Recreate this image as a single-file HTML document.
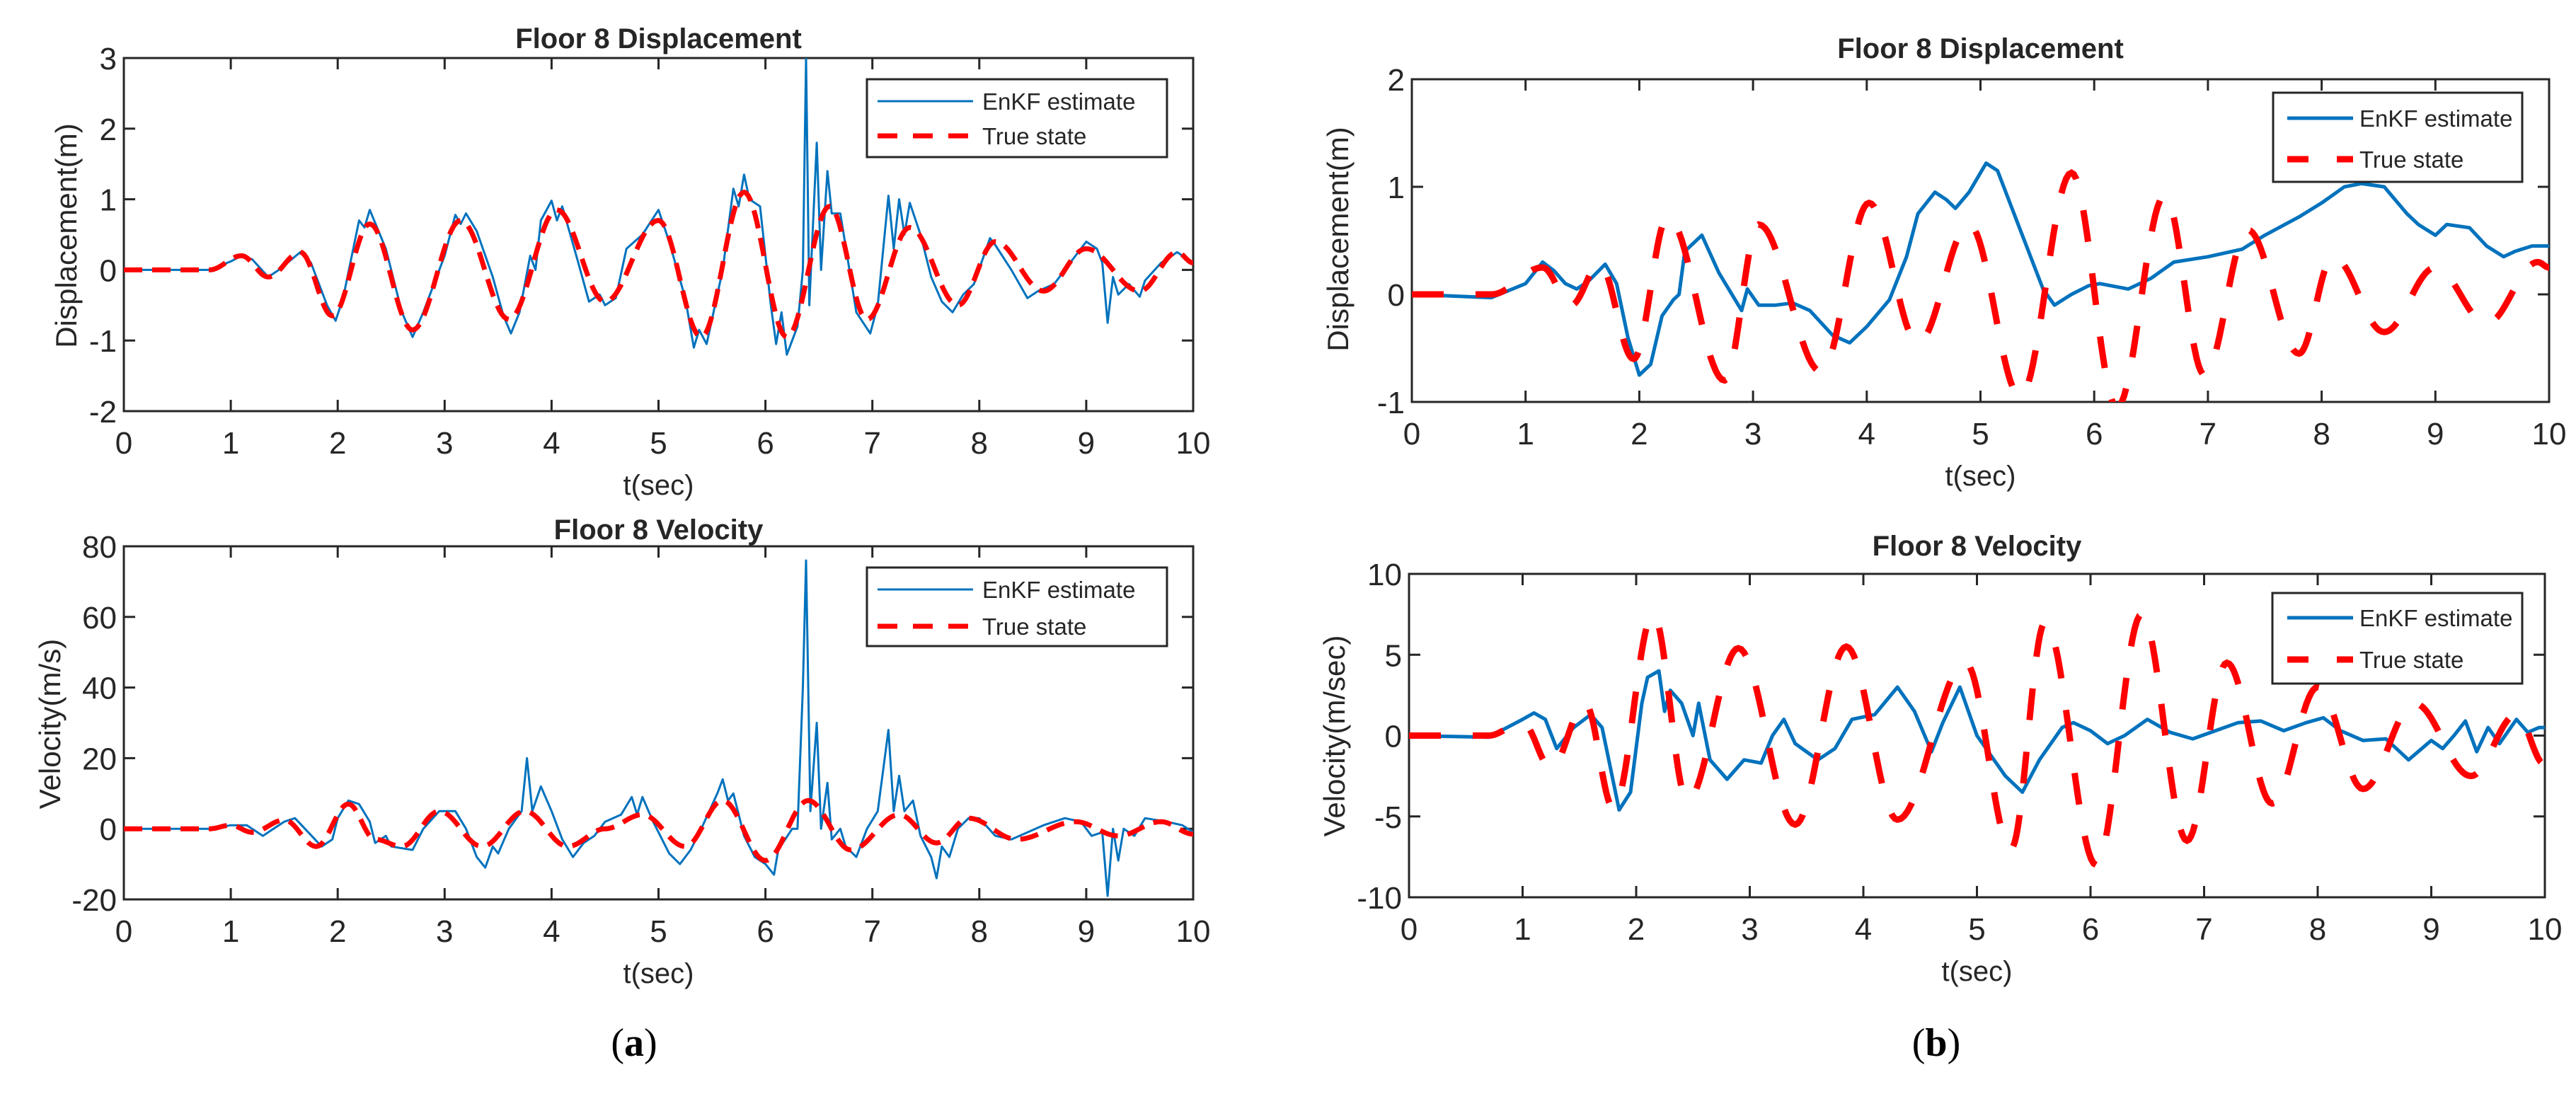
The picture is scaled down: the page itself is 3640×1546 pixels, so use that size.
<!DOCTYPE html>
<html><head><meta charset="utf-8">
<style>
html,body{margin:0;padding:0;background:#fff;}
svg{display:block;}
text{font-family:"Liberation Sans",sans-serif;fill:#262626;}
</style></head>
<body>
<svg id="fig" width="3640" height="1546" viewBox="0 0 3640 1546" xmlns="http://www.w3.org/2000/svg">
<text x="896" y="1492" style="font-family:'Liberation Serif',serif;font-size:56px;fill:#000" text-anchor="middle">(<tspan font-weight="bold">a</tspan>)</text>
<text x="2736" y="1492" style="font-family:'Liberation Serif',serif;font-size:56px;fill:#000" text-anchor="middle">(<tspan font-weight="bold">b</tspan>)</text>
</svg>
<script>
// ---- Panel (a) displacement ----
const aDispTrueT = [0,0.8,1.1,1.35,1.65,1.95,2.3,2.7,3.15,3.6,4.05,4.5,5.0,5.4,5.8,6.2,6.6,6.95,7.35,7.8,8.15,8.6,9.0,9.5,9.85,10];
const aDispTrueV = [0,0,0.2,-0.1,0.25,-0.65,0.65,-0.85,0.7,-0.7,0.85,-0.45,0.7,-0.95,1.1,-0.95,0.9,-0.7,0.6,-0.5,0.4,-0.3,0.3,-0.3,0.25,0.1];
const aDispEstT = [0,0.8,1.0,1.1,1.2,1.35,1.45,1.65,1.75,1.9,1.98,2.05,2.2,2.25,2.3,2.45,2.6,2.7,2.8,3.0,3.1,3.15,3.2,3.3,3.45,3.55,3.62,3.7,3.8,3.85,3.9,4.0,4.05,4.1,4.25,4.35,4.45,4.5,4.6,4.7,4.85,5.0,5.1,5.25,5.33,5.38,5.45,5.6,5.7,5.75,5.8,5.85,5.95,6.05,6.1,6.15,6.2,6.3,6.35,6.38,6.41,6.48,6.52,6.58,6.62,6.7,6.85,6.98,7.05,7.15,7.2,7.25,7.3,7.35,7.45,7.55,7.65,7.75,7.85,7.95,8.1,8.15,8.3,8.45,8.55,8.7,8.85,9.0,9.1,9.15,9.2,9.25,9.3,9.4,9.5,9.55,9.7,9.85,10];
const aDispEstV = [0,0,0.12,0.2,0.15,-0.1,0,0.25,0.1,-0.5,-0.72,-0.4,0.7,0.6,0.85,0.3,-0.6,-0.95,-0.6,0.2,0.78,0.65,0.8,0.55,-0.1,-0.65,-0.9,-0.6,0.2,0,0.7,0.98,0.7,0.9,0.1,-0.45,-0.35,-0.5,-0.4,0.3,0.5,0.85,0.4,-0.4,-1.1,-0.85,-1.05,0,1.15,0.9,1.35,1.0,0.9,-0.5,-1.05,-0.6,-1.2,-0.8,0,3.0,-0.5,1.8,0,1.4,0.8,0.8,-0.6,-0.9,-0.5,1.05,0.3,1.0,0.5,0.95,0.5,-0.1,-0.45,-0.6,-0.35,-0.2,0.45,0.35,0,-0.4,-0.3,-0.2,0.1,0.4,0.3,0.1,-0.75,-0.1,-0.35,-0.2,-0.38,-0.15,0.1,0.25,0.1];
// ---- Panel (a) velocity ----
const aVelTrueT = [0,0.8,1.0,1.2,1.5,1.8,2.1,2.35,2.6,2.95,3.35,3.75,4.15,4.5,4.85,5.25,5.6,6.0,6.4,6.8,7.25,7.6,7.9,8.35,8.9,9.3,9.7,10];
const aVelTrueV = [0,0,1,-1,2.5,-5,7,-3,-5,5,-5,5,-5,0,4,-5,8,-9,8,-6,4,-4,3,-3,2,-2,2,-1.5];
const aVelEstT = [0,0.8,1.0,1.15,1.3,1.5,1.6,1.85,1.95,2.0,2.1,2.2,2.3,2.35,2.45,2.5,2.7,2.8,2.95,3.1,3.2,3.3,3.38,3.45,3.5,3.6,3.72,3.77,3.82,3.9,4.0,4.1,4.2,4.3,4.4,4.5,4.65,4.75,4.8,4.85,4.95,5.1,5.2,5.3,5.4,5.55,5.6,5.65,5.7,5.8,5.9,6.0,6.08,6.12,6.25,6.3,6.35,6.38,6.42,6.48,6.52,6.58,6.62,6.7,6.75,6.85,6.95,7.05,7.15,7.2,7.25,7.3,7.38,7.45,7.55,7.6,7.65,7.72,7.8,7.9,8.0,8.15,8.3,8.45,8.6,8.8,8.95,9.05,9.15,9.2,9.25,9.3,9.35,9.45,9.55,9.75,9.9,10];
const aVelEstV = [0,0,1,1,-2,2,3,-5,-3,3,8,7,2,-4,-2,-5,-6,0,5,5,0,-8,-11,-5,-7,0,5,20,5,12,5,-3,-8,-4,-2,2,4,9,4,9,2,-7,-10,-6,0,10,14,8,10,-2,-8,-10,-13,-6,0,0,40,76,5,30,0,13,-3,0,-5,-8,0,5,28,5,15,5,8,-2,-8,-14,-5,-8,0,3,3,-2,-3,-1,1,3,2,-2,-1,-19,0,-9,0,-2,3,2,1,-1];
// ---- Panel (b) displacement ----
const bDispTrueT = [0,0.7,1.15,1.4,1.65,1.95,2.25,2.75,3.05,3.6,4.02,4.45,4.9,5.35,5.8,6.2,6.62,6.97,7.35,7.8,8.1,8.55,9.0,9.45,9.9,10];
const bDispTrueV = [0,0,0.25,-0.1,0.28,-0.6,0.72,-0.8,0.65,-0.72,0.85,-0.45,0.65,-0.95,1.13,-1.05,0.92,-0.75,0.6,-0.55,0.35,-0.35,0.25,-0.27,0.3,0.25];
const bDispEstT = [0,0.7,1.0,1.15,1.25,1.35,1.45,1.55,1.7,1.8,1.9,2.0,2.1,2.2,2.3,2.35,2.4,2.55,2.7,2.9,2.95,3.05,3.2,3.35,3.5,3.7,3.85,4.0,4.2,4.35,4.45,4.6,4.7,4.78,4.9,5.05,5.15,5.35,5.55,5.65,5.8,5.95,6.05,6.3,6.5,6.7,7.0,7.3,7.5,7.8,8.0,8.2,8.35,8.55,8.75,8.85,9.0,9.1,9.3,9.45,9.6,9.7,9.85,10];
const bDispEstV = [0,-0.03,0.1,0.3,0.22,0.1,0.05,0.12,0.28,0.1,-0.4,-0.75,-0.65,-0.2,-0.05,0,0.4,0.55,0.2,-0.15,0.05,-0.1,-0.1,-0.08,-0.15,-0.38,-0.45,-0.3,-0.05,0.35,0.75,0.95,0.88,0.8,0.95,1.22,1.15,0.6,0.05,-0.1,0,0.08,0.1,0.05,0.15,0.3,0.35,0.42,0.55,0.72,0.85,1.0,1.03,1.0,0.75,0.65,0.55,0.65,0.62,0.45,0.35,0.4,0.45,0.45];
// ---- Panel (b) velocity ----
const bVelTrueT = [0,0.7,1.0,1.25,1.55,1.8,2.15,2.45,2.9,3.4,3.85,4.3,4.9,5.3,5.6,6.05,6.45,6.85,7.2,7.6,8.0,8.4,8.85,9.35,9.75,10];
const bVelTrueV = [0,0,0.8,-2,2,-4.5,7.5,-4,5.4,-5.5,5.5,-5.2,4.5,-7,7,-8,7.5,-6.5,4.5,-4.2,3,-3.3,2,-2.5,1.3,-1.8];
const bVelEstT = [0,0.7,1.0,1.1,1.2,1.3,1.45,1.6,1.7,1.85,1.95,2.05,2.1,2.2,2.25,2.3,2.4,2.5,2.55,2.65,2.8,2.95,3.1,3.2,3.3,3.4,3.6,3.75,3.9,4.1,4.3,4.45,4.6,4.7,4.85,5.0,5.25,5.4,5.55,5.75,5.85,6.0,6.15,6.3,6.5,6.7,6.9,7.1,7.3,7.5,7.7,7.9,8.05,8.2,8.4,8.6,8.8,9.0,9.1,9.2,9.3,9.4,9.5,9.6,9.75,9.85,9.95,10];
const bVelEstV = [0,-0.1,1.0,1.4,1.0,-0.8,0.5,1.3,0.5,-4.6,-3.5,2.0,3.6,4.0,1.5,2.8,2.0,0,2.0,-1.5,-2.7,-1.5,-1.7,0,1.0,-0.5,-1.5,-0.8,1.0,1.3,3.0,1.5,-1.0,0.8,3.0,0,-2.5,-3.5,-1.5,0.5,0.8,0.3,-0.5,0,1.0,0.2,-0.2,0.3,0.8,0.9,0.3,0.8,1.1,0.3,-0.3,-0.2,-1.5,-0.3,-0.8,0,0.9,-1.0,0.5,-0.5,1.0,0.2,0.5,0.5];

const xTicks = [0,1,2,3,4,5,6,7,8,9,10];
const aDispYTicks = [-2,-1,0,1,2,3];
const aVelYTicks = [-20,0,20,40,60,80];
const bDispYTicks = [-1,0,1,2];
const bVelYTicks = [-10,-5,0,5,10];

const NS = 'http://www.w3.org/2000/svg';
const fig = document.getElementById('fig');
function mk(tag, attrs, parent){ const e=document.createElementNS(NS,tag); for(const k in attrs) e.setAttribute(k,attrs[k]); (parent||fig).appendChild(e); return e; }

function panel(p){
  const g = mk('g',{});
  
  
  const xs = t => p.L + (t - 0) / 10 * (p.R - p.L);
  const ys = v => p.B - (v - p.yMin) / (p.yMax - p.yMin) * (p.B - p.T);
  // title
  const tt = mk('text',{x:(p.L+p.R)/2, y:p.titleY, 'text-anchor':'middle', 'font-size':40, 'font-weight':'bold', fill:'#000'}, g);
  
  
  tt.textContent = p.title;
  // axes box
  const box = mk('rect',{x:p.L,y:p.T,width:p.R-p.L,height:p.B-p.T,fill:'#fff',stroke:'#262626','stroke-width':3}, g);
  
  
  // x ticks
  xTicks.forEach(t=>{
    const x = xs(t);
    mk('line',{x1:x,y1:p.B,x2:x,y2:p.B-16,stroke:'#262626','stroke-width':3},g);
    mk('line',{x1:x,y1:p.T,x2:x,y2:p.T+16,stroke:'#262626','stroke-width':3},g);
    const tl = mk('text',{x:x,y:p.B+60,'text-anchor':'middle','font-size':44},g);
    
    
    tl.textContent = t;
  });
  p.yTicks.forEach(v=>{
    const y = ys(v);
    mk('line',{x1:p.L,y1:y,x2:p.L+16,y2:y,stroke:'#262626','stroke-width':3},g);
    mk('line',{x1:p.R,y1:y,x2:p.R-16,y2:y,stroke:'#262626','stroke-width':3},g);
    const tl = mk('text',{x:p.L-10,y:y+16,'text-anchor':'end','font-size':44},g);
    
    
    tl.textContent = v;
  });
  // axis titles
  const xl = mk('text',{x:(p.L+p.R)/2,y:p.B+118,'text-anchor':'middle','font-size':40},g);
  
  
  xl.textContent = 't(sec)';
  const yl = mk('text',{x:0,y:0,'text-anchor':'middle','font-size':42,transform:`translate(${p.ylX},${p.ylY}) rotate(-90)`},g);
  
  
  yl.textContent = p.ylabel;
  // clip
  const cid = 'clip-'+p.name;
  const cp = mk('clipPath',{id:cid},g);
  mk('rect',{x:p.L,y:p.T,width:p.R-p.L,height:p.B-p.T},cp);
  // estimate line
  let d='';
  p.estT.forEach((t,i)=>{ d += (i?'L':'M') + xs(t).toFixed(1)+','+ys(p.estV[i]).toFixed(1); });
  const est = mk('path',{d:d,fill:'none',stroke:'#0072BD','stroke-width':p.bw,'stroke-linejoin':'round','clip-path':`url(#${cid})`},g);
  
  
  // true line: half-cosine between extremes
  let d2='';
  for(let i=0;i<p.trueT.length-1;i++){
    const t0=p.trueT[i],t1=p.trueT[i+1],v0=p.trueV[i],v1=p.trueV[i+1];
    for(let k=0;k<=20;k++){
      const s=k/20, t=t0+(t1-t0)*s, v=v0+(v1-v0)*(1-Math.cos(Math.PI*s))/2;
      d2 += ((i===0&&k===0)?'M':'L') + xs(t).toFixed(1)+','+ys(v).toFixed(1);
    }
  }
  const tr = mk('path',{d:d2,fill:'none',stroke:'#ff0000','stroke-width':p.rw,'stroke-dasharray':p.dash,'clip-path':`url(#${cid})`},g);
  
  
  // legend
  const lg = mk('g',{},g);
  
  
  const Lb = p.leg;
  mk('rect',{x:Lb.x,y:Lb.y,width:Lb.w,height:Lb.h,fill:'#fff',stroke:'#262626','stroke-width':3},lg);
  mk('line',{x1:Lb.lx1,y1:Lb.r1,x2:Lb.lx2,y2:Lb.r1,stroke:'#0072BD','stroke-width':p.bw},lg);
  mk('line',{x1:Lb.lx1,y1:Lb.r2,x2:Lb.lx2,y2:Lb.r2,stroke:'#ff0000','stroke-width':p.rw,'stroke-dasharray':p.legDash},lg);
  const e1 = mk('text',{x:Lb.tx,y:Lb.r1+12,'font-size':33},lg);
  
  
  e1.textContent='EnKF estimate';
  const e2 = mk('text',{x:Lb.tx,y:Lb.r2+12,'font-size':33},lg);
  
  
  e2.textContent='True state';
}

panel({name:'panel-a-displacement',title:'Floor 8 Displacement',L:175,R:1686,T:82,B:581,yMin:-2,yMax:3,yTicks:aDispYTicks,titleY:68,ylabel:'Displacement(m)',ylX:108,ylY:333,
  estT:aDispEstT,estV:aDispEstV,trueT:aDispTrueT,trueV:aDispTrueV,bw:3,rw:7,dash:'26 14',legDash:'28 22',
  leg:{x:1225,y:112,w:424,h:110,lx1:1240,lx2:1375,tx:1388,r1:143,r2:192}});
panel({name:'panel-a-velocity',title:'Floor 8 Velocity',L:175,R:1686,T:772,B:1271,yMin:-20,yMax:80,yTicks:aVelYTicks,titleY:762,ylabel:'Velocity(m/s)',ylX:85,ylY:1023,
  estT:aVelEstT,estV:aVelEstV,trueT:aVelTrueT,trueV:aVelTrueV,bw:3,rw:7,dash:'26 14',legDash:'28 22',
  leg:{x:1225,y:802,w:424,h:111,lx1:1240,lx2:1375,tx:1388,r1:833,r2:885}});
panel({name:'panel-b-displacement',title:'Floor 8 Displacement',L:1995,R:3602,T:112,B:568,yMin:-1,yMax:2,yTicks:bDispYTicks,titleY:82,ylabel:'Displacement(m)',ylX:1905,ylY:338,
  estT:bDispEstT,estV:bDispEstV,trueT:bDispTrueT,trueV:bDispTrueV,bw:5,rw:9,dash:'45 45',legDash:'30 40',
  leg:{x:3212,y:131,w:352,h:126,lx1:3232,lx2:3325,tx:3334,r1:167,r2:225}});
panel({name:'panel-b-velocity',title:'Floor 8 Velocity',L:1991,R:3596,T:811,B:1268,yMin:-10,yMax:10,yTicks:bVelYTicks,titleY:785,ylabel:'Velocity(m/sec)',ylX:1900,ylY:1040,
  estT:bVelEstT,estV:bVelEstV,trueT:bVelTrueT,trueV:bVelTrueV,bw:5,rw:9,dash:'45 45',legDash:'30 40',
  leg:{x:3211,y:838,w:353,h:128,lx1:3232,lx2:3325,tx:3334,r1:873,r2:932}});
</script>
</body></html>
